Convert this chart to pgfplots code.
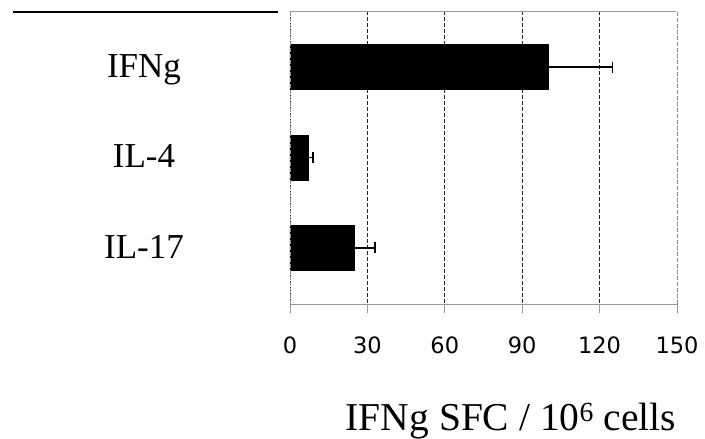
\documentclass[border=0pt]{standalone}
\usepackage{fontspec}
\setmainfont{Liberation Serif}
\newfontfamily\tickfont{DejaVu Sans}
\usepackage{pgfplots}
\pgfplotsset{compat=1.18}
\begin{document}
\begin{tikzpicture}
\path[use as bounding box] (-290bp,-135bp) rectangle (415bp,304bp);
\begin{axis}[
  scale only axis,
  width=387bp, height=293bp,
  at={(0,0)}, anchor=south west,
  xbar, bar width=45bp,
  xmin=0, xmax=150,
  ymin=-0.62, ymax=2.62,
  y dir=reverse,
  xtick={0,30,60,90,120,150},
  ytick={0,1,2},
  yticklabels={IFNg,IL-4,IL-17},
  separate axis lines,
  x axis line style={draw=black!40, line width=0.9bp},
  y axis line style={draw=none},
  xtick pos=bottom,
  tick align=outside,
  major tick length=9bp,
  xtick style={draw=black!40, line width=0.9bp},
  ytick style={draw=none},
  xmajorgrids,
  major grid style={black!85, dash pattern=on 4bp off 2bp, line width=0.8bp},
  /pgf/number format/assume math mode=true,
  xticklabel style={font=\tickfont\fontsize{22.5bp}{26bp}\selectfont, yshift=-20bp},
  yticklabel style={font=\fontsize{35bp}{40bp}\selectfont, anchor=center, xshift=-137bp, yshift=-7bp, text height=0.7em, text depth=0pt},
  xlabel={IFNg SFC / 10\textsuperscript{6} cells},
  xlabel style={font=\fontsize{39.5bp}{44bp}\selectfont, at={(axis description cs:0.5,0)}, anchor=base, xshift=27.5bp, yshift=-126bp},
  clip=false,
]
\addplot[fill=black, draw=black,
  error bars/.cd, x dir=plus, x explicit,
  error bar style={line width=1.6bp, black},
  error mark options={rotate=90, mark size=5.5bp, line width=1.8bp, black}]
  coordinates {
    (100,0) +- (25,0)
    (7,1) +- (2,0)
    (25,2) +- (8,0)
  };
\draw[black!40, line width=0.9bp] (rel axis cs:0,1) -- (rel axis cs:1,1);
\draw[white, line width=1.2bp] (rel axis cs:1,0) -- (rel axis cs:1,1);
\draw[black!45, line width=0.9bp, dash pattern=on 4bp off 2bp] (rel axis cs:1,0) -- (rel axis cs:1,1);
\draw[black!45, line width=0.9bp, dash pattern=on 4bp off 2bp] (rel axis cs:0,0) -- (rel axis cs:0,1);
\end{axis}
\draw[black, line width=2bp] (-277.3bp,292.3bp) -- (-12.3bp,292.3bp);
\end{tikzpicture}
\end{document}
